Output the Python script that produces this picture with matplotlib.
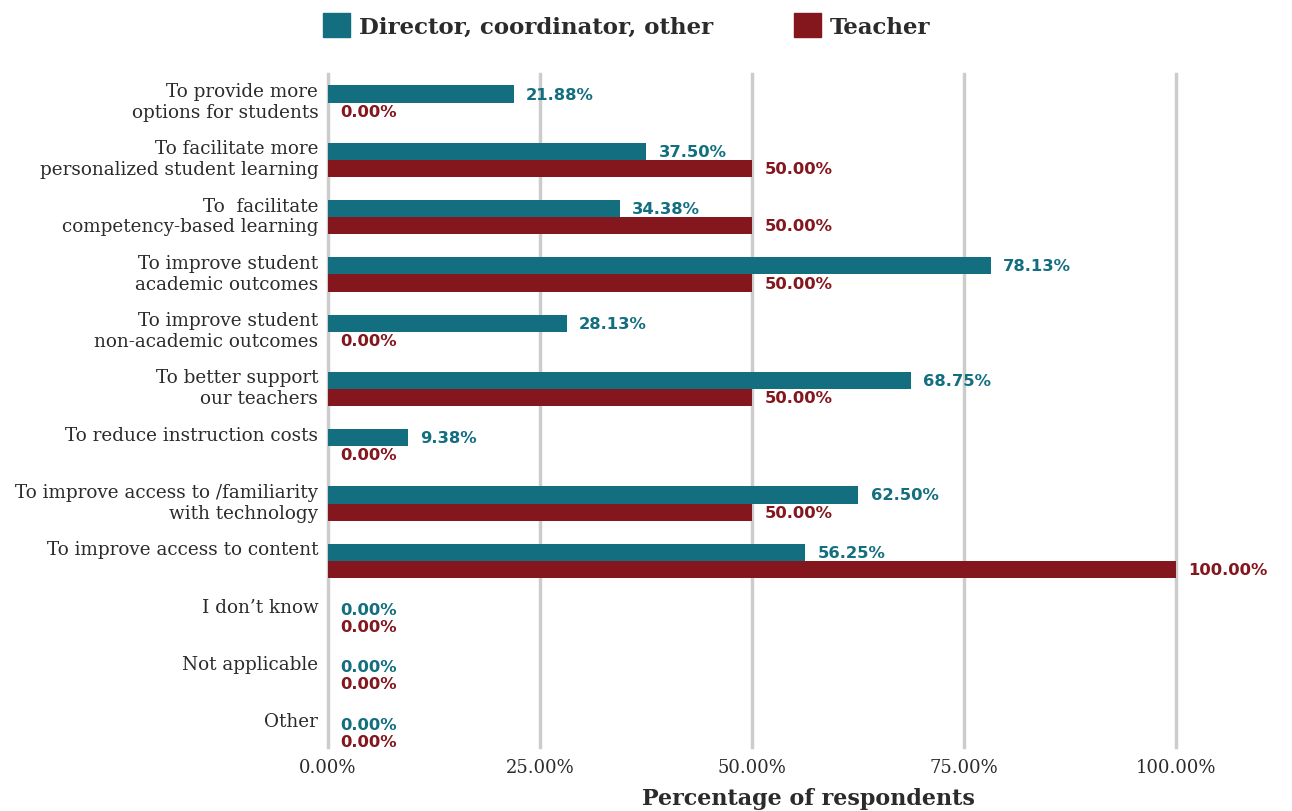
import numpy as np
import matplotlib
matplotlib.use("Agg")
import matplotlib.pyplot as plt
from matplotlib.patches import Patch

categories = [
    "To provide more\noptions for students",
    "To facilitate more\npersonalized student learning",
    "To  facilitate\ncompetency-based learning",
    "To improve student\nacademic outcomes",
    "To improve student\nnon-academic outcomes",
    "To better support\nour teachers",
    "To reduce instruction costs",
    "To improve access to /familiarity\nwith technology",
    "To improve access to content",
    "I don\u2019t know",
    "Not applicable",
    "Other",
]
director = [21.88, 37.50, 34.38, 78.13, 28.13, 68.75, 9.38, 62.50, 56.25, 0.00, 0.00, 0.00]
teacher = [0.00, 50.00, 50.00, 50.00, 0.00, 50.00, 0.00, 50.00, 100.00, 0.00, 0.00, 0.00]
xticks = [0, 25, 50, 75, 100]

teal = "#136f80"
red = "#84161e"
grid_c = "#cccccc"
text_c = "#2b2b2b"

plt.rcParams["font.family"] = ["DejaVu Serif"]

fig = plt.figure(figsize=(12.92, 8.12), dpi=100)
ax = fig.add_axes([328 / 1292, 1 - 748 / 812, 848 / 1292, 673 / 812])

y = np.arange(len(categories))
h = 0.30
ax.barh(y - h / 2, director, height=h, color=teal, zorder=3)
ax.barh(y + h / 2, teacher, height=h, color=red, zorder=3)

for i in range(len(categories)):
    ax.annotate("%.2f%%" % director[i], (director[i], y[i] - h / 2), xytext=(9, 0),
                textcoords="offset points", va="center", ha="left", color=teal,
                fontsize=11.8, fontweight="bold", family="DejaVu Sans", annotation_clip=False)
    ax.annotate("%.2f%%" % teacher[i], (teacher[i], y[i] + h / 2), xytext=(9, 0),
                textcoords="offset points", va="center", ha="left", color=red,
                fontsize=11.8, fontweight="bold", family="DejaVu Sans", annotation_clip=False)

ax.set_xlim(0, 100)
ax.set_ylim(11.25, -0.5)
ax.set_xticks(xticks)
ax.set_xticklabels(["%.2f%%" % t for t in xticks], fontsize=13, color=text_c)
# labels hang from the top of each group
ax.set_yticks(y - 0.36)
ax.set_yticklabels(categories, fontsize=13.2, color=text_c, linespacing=1.2, va="top")
ax.tick_params(axis="y", length=0, pad=7)
ax.tick_params(axis="x", length=0, pad=8)
ax.grid(axis="x", color=grid_c, linewidth=2.5, zorder=0)
for gl in ax.get_xgridlines():
    gl.set_clip_on(False)
for s in ax.spines.values():
    s.set_visible(False)

ax.set_xlabel("Percentage of respondents", fontsize=16, fontweight="bold", color=text_c)
ax.xaxis.set_label_coords(0.566, -0.06)

handles = [Patch(color=teal, label="Director, coordinator, other"),
           Patch(color=red, label="Teacher")]
leg = fig.legend(handles=handles, loc="upper center", bbox_to_anchor=(0.485, 1.008), ncol=2,
                 frameon=False, handlelength=1.2, handleheight=1.2, handletextpad=0.4,
                 columnspacing=3.5, prop={"size": 16.5, "weight": "bold"})
for t in leg.get_texts():
    t.set_color(text_c)

fig.savefig("out.png", dpi=100)
